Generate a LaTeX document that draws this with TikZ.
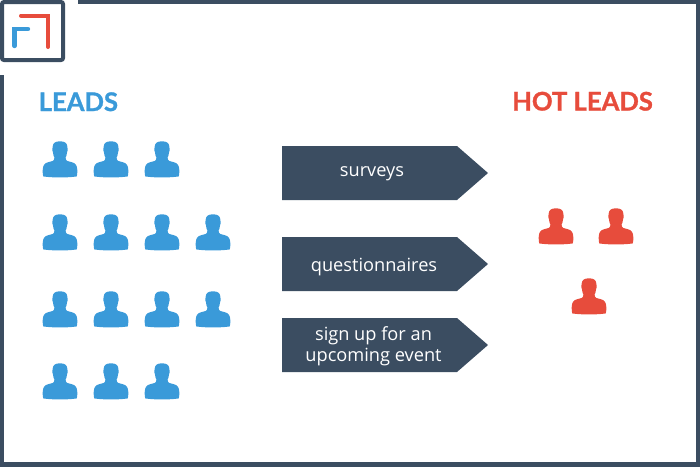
\documentclass[tikz,border=0pt]{standalone}
\usepackage{fontspec}
\setmainfont{Open Sans}
\newfontfamily\headfont[BoldFeatures={FakeBold=1.2}]{Lato}
\usepackage{tikz}

\definecolor{slateblue}{HTML}{3B4D61}
\definecolor{leadblue}{HTML}{3A9AD9}
\definecolor{hotred}{HTML}{E74C3C}

\tikzset{
	person/.pic={
		\fill (0,0.3) .. controls (4.5,0.3) and (7.2,1.8) .. (7.4,6)
			.. controls (7.9,8) and (7.8,10.5) .. (7,11.5)
			.. controls (6.8,14) and (6.2,15.5) .. (5.6,16.5)
			.. controls (5.6,18) and (6,19.2) .. (7,19.8)
			.. controls (10,21) and (14.5,21.2) .. (16,23.8)
			.. controls (17.6,26) and (17.6,32) .. (16.8,35.4)
			.. controls (8,36.8) and (-8,36.8) .. (-16.8,35.4)
			.. controls (-17.6,32) and (-17.6,26) .. (-16,23.8)
			.. controls (-14.5,21.2) and (-10,21) .. (-7,19.8)
			.. controls (-6,19.2) and (-5.6,18) .. (-5.6,16.5)
			.. controls (-6.2,15.5) and (-6.8,14) .. (-7,11.5)
			.. controls (-7.8,10.5) and (-7.9,8) .. (-7.4,6)
			.. controls (-7.2,1.8) and (-4.5,0.3) .. (0,0.3) -- cycle;
	},
	heading/.style={font=\headfont\bfseries\fontsize{25.6}{26}\selectfont, anchor=base west, inner sep=0pt},
	tag/.style={font=\fontsize{18.2}{20.5}\selectfont, text=white, align=center},
}

\begin{document}
\begin{tikzpicture}[x=1pt,y=-1pt]
\useasboundingbox (0,0) rectangle (700,467);

% frame
\draw[slateblue, line width=4.5pt] (78,2) -- (698,2) -- (698,464.5) -- (2,464.5) -- (2,75);

% logo
\draw[slateblue, line width=4pt, rounded corners=2pt] (2,2) rectangle (63,60);
\draw[hotred, line width=4pt, line cap=round] (21,15.5) -- (48,15.5) -- (48,47);
\draw[leadblue, line width=4.4pt, line cap=round] (28,29) -- (14.5,29) -- (14.5,46);

\node[heading, text=leadblue] (leads) at (38.5,111) {LEADS};
\node[heading, text=hotred] (hotleads) at (512,110.5) {HOT LEADS};

% left people
\foreach \x/\y in {60/141,111/141,162/141,
		60/214,111/214,162/214,213/214,
		60/291,111/291,162/291,213/291,
		60/363,111/363,162/363}{
	\pic[leadblue] at (\x,\y) {person};
}

% right people
\foreach \x/\y in {556/208,616/208,589/278}{
	\pic[hotred] at (\x,\y) {person};
}

% arrows
\foreach \y in {146,237,318}{
	\fill[slateblue] (282,\y) -- (457,\y) -- (488,\y+27) -- (457,\y+54) -- (282,\y+54) -- cycle;
}
\node[tag] (surveys) at (372,174) {surveys};
\node[tag] (questionnaires) at (374,266.5) {questionnaires};
\node[tag] (signup) at (373.5,346) {sign up for an\\upcoming event};

\end{tikzpicture}
\end{document}
